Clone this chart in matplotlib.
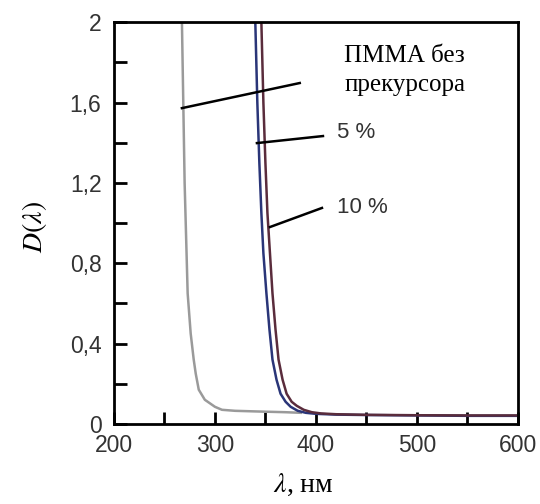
import matplotlib.pyplot as plt
from matplotlib.ticker import MultipleLocator, FuncFormatter

plt.rcParams['mathtext.fontset'] = 'stix'

# PMMA without precursor
wl_pmma = [267, 268, 270, 273, 276, 279, 281, 284, 290, 300, 307, 320, 340, 370, 385]
d_pmma = [2.1, 1.8, 1.2, 0.65, 0.45, 0.32, 0.25, 0.17, 0.12, 0.085, 0.07, 0.065, 0.062, 0.058, 0.055]

# 5 % precursor
wl_5 = [339.5, 340.5, 342, 344, 346, 348, 351, 354, 357, 361, 365, 370, 375, 382, 390,
        400, 420, 450, 500, 550, 600]
d_5 = [2.1, 1.9, 1.6, 1.3, 1.05, 0.85, 0.65, 0.47, 0.32, 0.22, 0.15, 0.11, 0.085, 0.065, 0.055,
       0.05, 0.046, 0.044, 0.042, 0.04, 0.04]

# 10 % precursor
wl_10 = [345.5, 346.5, 348, 350, 352, 354.5, 357, 360, 363, 367, 371, 376, 381, 388, 396,
         405, 420, 450, 500, 550, 600]
d_10 = [2.1, 1.9, 1.6, 1.3, 1.05, 0.85, 0.65, 0.47, 0.32, 0.22, 0.15, 0.11, 0.09, 0.07, 0.058,
        0.052, 0.048, 0.045, 0.043, 0.042, 0.042]

# annotation leader lines: (x0, y0, x1, y1), label text and anchor
labels = ['ПММА без\nпрекурсора', '5 %', '10 %']
leaders = [(267.3, 1.572, 384, 1.697), (341.6, 1.398, 407, 1.433), (354.5, 0.98, 406, 1.075)]
label_pos = [(488, 1.76), (421, 1.45), (421, 1.075)]

fig = plt.figure(figsize=(5.4, 5.04), dpi=100)
ax = fig.add_axes([0.211, 0.159, 0.748, 0.797])

ax.plot(wl_pmma, d_pmma, color='#9a9a9a', lw=1.8)
ax.plot(wl_5, d_5, color='#2a3578', lw=1.8)
ax.plot(wl_10, d_10, color='#5a2c3c', lw=1.8)

for x0, y0, x1, y1 in leaders:
    ax.plot([x0, x1], [y0, y1], color='black', lw=1.8)

ax.text(*label_pos[0], labels[0], fontsize=18, family='Liberation Serif',
        ha='center', va='center', linespacing=1.4)
ax.text(*label_pos[1], labels[1], fontsize=16, family='Liberation Sans',
        ha='left', va='center', color='#333333')
ax.text(*label_pos[2], labels[2], fontsize=16, family='Liberation Sans',
        ha='left', va='center', color='#333333')

ax.set_xlim(200, 600)
ax.set_ylim(0, 2)
ax.xaxis.set_major_locator(MultipleLocator(100))
ax.xaxis.set_minor_locator(MultipleLocator(50))
ax.yaxis.set_major_locator(MultipleLocator(0.4))
ax.yaxis.set_minor_locator(MultipleLocator(0.2))
ax.yaxis.set_major_formatter(FuncFormatter(lambda v, p: ('%g' % round(v, 1)).replace('.', ',')))

ax.tick_params(which='both', direction='in', length=9, width=2, labelsize=16.5,
               labelcolor='#333333')
ax.tick_params(axis='y', pad=9)
ax.tick_params(axis='x', pad=7)
for lab in ax.get_xticklabels() + ax.get_yticklabels():
    lab.set_family('Liberation Sans')
for sp in ax.spines.values():
    sp.set_linewidth(2)

ax.set_xlabel(r'$\lambda$, нм', fontsize=20, family='Liberation Serif')
ax.set_ylabel(r'$D(\lambda)$', fontsize=20, family='Liberation Serif')
ax.xaxis.set_label_coords(0.468, -0.12)
ax.yaxis.set_label_coords(-0.16, 0.49)

fig.savefig('out.png', dpi=100)
